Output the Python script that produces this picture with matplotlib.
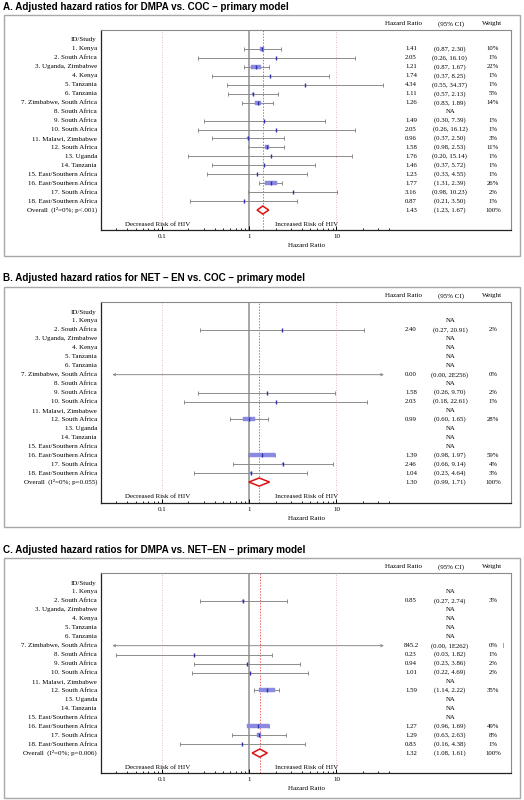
import matplotlib
matplotlib.use("Agg")
import matplotlib.pyplot as plt
import matplotlib.transforms as mtransforms
from matplotlib.patches import Rectangle, Polygon
import numpy as np

# ---------------- data ----------------
studies = ["1. Kenya", "2. South Africa", "3. Uganda, Zimbabwe", "4. Kenya",
           "5. Tanzania", "6. Tanzania", "7. Zimbabwe, South Africa",
           "8. South Africa", "9. South Africa", "10. South Africa",
           "11. Malawi, Zimbabwe", "12. South Africa", "13. Uganda",
           "14. Tanzania", "15. East/Southern Africa", "16. East/Southern Africa",
           "17. South Africa", "18. East/Southern Africa"]

titles = ["A. Adjusted hazard ratios for DMPA vs. COC \u2013 primary model",
          "B. Adjusted hazard ratios for NET \u2013 EN vs. COC \u2013 primary model",
          "C. Adjusted hazard ratios for DMPA vs. NET\u2013EN \u2013 primary model"]

overall_labels = ["Overall  (I\u00b2=0%; p<.001)",
                  "Overall  (I\u00b2=0%; p=0.055)",
                  "Overall  (I\u00b2=0%; p=0.006)"]

N = None
# Panel A: DMPA vs COC
hr_a = [1.41, 2.05, 1.21, 1.74, 4.34, 1.11, 1.26, N, 1.49, 2.05, 0.96, 1.58, 1.76, 1.46, 1.23, 1.77, 3.16, 0.87]
lo_a = [0.87, 0.26, 0.87, 0.37, 0.55, 0.57, 0.83, N, 0.30, 0.26, 0.37, 0.98, 0.20, 0.37, 0.33, 1.31, 0.98, 0.21]
hi_a = [2.30, 16.10, 1.67, 8.25, 34.37, 2.13, 1.89, N, 7.39, 16.12, 2.50, 2.53, 15.14, 5.72, 4.55, 2.39, 10.23, 3.50]
wt_a = [10, 1, 22, 1, 1, 5, 14, N, 1, 1, 3, 11, 1, 1, 1, 26, 2, 1]
ov_a = (1.43, 1.23, 1.67, 100)

# Panel B: NET-EN vs COC
hr_b = [N, 2.40, N, N, N, N, 0.00, N, 1.58, 2.03, N, 0.99, N, N, N, 1.39, 2.46, 1.04]
lo_b = [N, 0.27, N, N, N, N, 0.00, N, 0.26, 0.18, N, 0.60, N, N, N, 0.98, 0.66, 0.23]
hi_b = [N, 20.91, N, N, N, N, 2e256, N, 9.70, 22.61, N, 1.65, N, N, N, 1.97, 9.14, 4.64]
wt_b = [N, 2, N, N, N, N, 0, N, 2, 1, N, 28, N, N, N, 59, 4, 3]
ov_b = (1.30, 0.99, 1.71, 100)

# Panel C: DMPA vs NET-EN
hr_c = [N, 0.85, N, N, N, N, 845.2, 0.23, 0.94, 1.01, N, 1.59, N, N, N, 1.27, 1.29, 0.83]
lo_c = [N, 0.27, N, N, N, N, 0.00, 0.03, 0.23, 0.22, N, 1.14, N, N, N, 0.96, 0.63, 0.16]
hi_c = [N, 2.74, N, N, N, N, 1e262, 1.82, 3.86, 4.69, N, 2.22, N, N, N, 1.69, 2.63, 4.38]
wt_c = [N, 3, N, N, N, N, 0, 1, 2, 2, N, 35, N, N, N, 49, 8, 1]
ov_c = (1.32, 1.08, 1.61, 100)

panels = [(hr_a, lo_a, hi_a, wt_a, ov_a),
          (hr_b, lo_b, hi_b, wt_b, ov_b),
          (hr_c, lo_c, hi_c, wt_c, ov_c)]

major_ticks = [0.1, 1, 10]
major_labels = ["0.1", "1", "10"]
minor_ticks = [0.03, 0.04, 0.05, 0.06, 0.07, 0.08, 0.09,
               0.2, 0.3, 0.4, 0.5, 0.6, 0.7, 0.8, 0.9,
               2, 3, 4, 5, 6, 7, 8, 9, 20, 30, 40]

# ---------------- layout (pixels) ----------------
W, H = 524, 800
fig = plt.figure(figsize=(W / 100, H / 100), dpi=100)
fig.patch.set_facecolor("white")

SERIF = "Liberation Serif"
SANS = "Liberation Sans"
FS = 5.0      # label font size
FSN = 4.9     # numbers font size

# title center y, outer box (y0,y1), inner box (y0,y1)
geo = [(7.5, (15, 256), (30, 230)),
       (278, (287, 527), (302, 503)),
       (550, (558, 798), (573, 773))]

AX_X0, AX_X1 = 101, 511
ROW = 8.95
XMIN, XMAX = 0.02, 1000
CLIP_LO, CLIP_HI = 0.027, 35

LINE_C = "#8c8c8c"
BOX_C = "#8a8ae0"
EST_C = "#3030a8"
RED = "#e01010"


def fmt(v):
    if v >= 1e10:
        e = int(np.floor(np.log10(v)))
        m = v / 10 ** e
        return f"{m:.0f}E{e}"
    if v >= 100:
        return f"{v:.1f}"
    return f"{v:.2f}"


for p, ((hr, lo, hi, wt, ov), (ty, (oy0, oy1), (iy0, iy1))) in enumerate(zip(panels, geo)):
    # title
    fig.text(3 / W, 1 - ty / H, titles[p], fontsize=7.1, fontweight="bold",
             family=SANS, ha="left", va="center")
    # outer box
    fig.patches.append(Rectangle((4 / W, 1 - oy1 / H), 516 / W, (oy1 - oy0) / H,
                                 transform=fig.transFigure, fill=False,
                                 edgecolor="#a8a8a8", lw=1.0))
    ax = fig.add_axes([AX_X0 / W, 1 - iy1 / H, (AX_X1 - AX_X0) / W, (iy1 - iy0) / H])
    ax.set_xscale("log")
    ax.set_xlim(XMIN, XMAX)
    top = -10 / ROW
    bot = (iy1 - iy0 - 10) / ROW
    ax.set_ylim(bot, top)
    ax.set_yticks([])
    for s in ["top", "right"]:
        ax.spines[s].set_color("#8a8a8a")
        ax.spines[s].set_linewidth(0.8)
    ax.spines["left"].set_color("#222222")
    ax.spines["left"].set_linewidth(0.9)
    ax.spines["bottom"].set_color("#222222")
    ax.spines["bottom"].set_linewidth(0.9)
    ax.set_xticks(major_ticks)
    ax.set_xticklabels(major_labels, family=SERIF, fontsize=FS)
    ax.set_xticks(minor_ticks, minor=True)
    ax.xaxis.set_minor_formatter(matplotlib.ticker.NullFormatter())
    ax.tick_params(axis="x", which="major", direction="in", length=3, width=0.7, pad=3)
    ax.tick_params(axis="x", which="minor", direction="in", length=1.8, width=0.6)
    ax.set_xlabel("Hazard Ratio", family=SERIF, fontsize=FS, labelpad=3)

    # reference lines
    ax.axvline(1, color="#a0a0a0", lw=1.3, zorder=1)
    for v in (0.1, 10):
        ax.axvline(v, color="#dcaaaa", lw=0.6, ls=(0, (1, 2)), zorder=1)
    ax.axvline(ov[0], color="#ec6060", lw=0.7, ls=(0, (1.5, 1.5)), zorder=1)

    bt = mtransforms.blended_transform_factory(ax.transAxes, ax.transData)

    # header row
    ax.text(-0.01, 0, "ID/Study", transform=bt, ha="right", va="center",
            family=SERIF, fontsize=FS)
    hy = -1.8
    ax.text(0.739, hy, "Hazard Ratio", transform=bt, ha="center", va="center",
            family=SERIF, fontsize=FS, clip_on=False)
    ax.text(0.854, hy, "(95% CI)", transform=bt, ha="center", va="center",
            family=SERIF, fontsize=FS, clip_on=False)
    ax.text(0.954, hy, "Weight", transform=bt, ha="center", va="center",
            family=SERIF, fontsize=FS, clip_on=False)

    for i, name in enumerate(studies):
        y = i + 1
        ax.text(-0.01, y, name, transform=bt, ha="right", va="center",
                family=SERIF, fontsize=FS, clip_on=False)
        if hr[i] is None:
            ax.text(0.854, y, "NA", transform=bt, ha="center", va="center",
                    family=SERIF, fontsize=FSN)
            continue
        ax.text(0.756, y, fmt(hr[i]), transform=bt, ha="center", va="center",
                family=SERIF, fontsize=FSN)
        ax.text(0.851, y, f"({fmt(lo[i])}, {fmt(hi[i])})", transform=bt,
                ha="center", va="center", family=SERIF, fontsize=FSN)
        ax.text(0.956, y, f"{wt[i]}%", transform=bt, ha="center", va="center",
                family=SERIF, fontsize=FSN)
        l, h = lo[i], hi[i]
        if l < CLIP_LO or h > CLIP_HI:
            ax.annotate("", xy=(max(l, CLIP_LO), y), xytext=(min(h, CLIP_HI), y),
                        arrowprops=dict(arrowstyle="<->", color=LINE_C, lw=0.7,
                                        mutation_scale=4, shrinkA=0, shrinkB=0))
        else:
            ax.plot([l, h], [y, y], color=LINE_C, lw=0.7, zorder=2)
            ax.plot([l, h], [y, y], ls="none", marker="|", ms=3, mew=0.7,
                    color=LINE_C, zorder=2)
        if XMIN < hr[i] < CLIP_HI:
            wpx = 0.44 * wt[i]
            hpx = min(wpx, 3.8)
            if wpx > 1:
                a = 0.5
                b = 0.5 * hpx / wpx
                verts = [(-a, -b), (a, -b), (a, b), (-a, b), (-a, -b)]
                ax.plot([hr[i]], [y], ls="none", marker=verts, ms=wpx * 0.72,
                        mfc=BOX_C, mec=BOX_C, mew=0.3, zorder=3)
            ax.plot([hr[i]], [y], ls="none", marker="|", ms=3.2, mew=1.0,
                    color=EST_C, zorder=4)

    # stray bar in panel C row 7
    if p == 2:
        ax.text(0.98, 7, "|", transform=bt, ha="center", va="center",
                family=SERIF, fontsize=FSN)

    # overall row
    yo = 19
    ax.text(-0.01, yo, overall_labels[p], transform=bt, ha="right", va="center",
            family=SERIF, fontsize=FS, clip_on=False)
    ax.add_patch(Polygon([(ov[1], yo), (ov[0], yo - 0.45), (ov[2], yo), (ov[0], yo + 0.45)],
                         closed=True, fill=True, facecolor="white", edgecolor=RED,
                         lw=1.1, zorder=5))
    ax.text(0.756, yo, fmt(ov[0]), transform=bt, ha="center", va="center",
            family=SERIF, fontsize=FSN)
    ax.text(0.851, yo, f"({fmt(ov[1])}, {fmt(ov[2])})", transform=bt,
            ha="center", va="center", family=SERIF, fontsize=FSN)
    ax.text(0.956, yo, f"{ov[3]}%", transform=bt, ha="center", va="center",
            family=SERIF, fontsize=FSN)

    # risk labels
    ax.text(0.137, 20.6, "Decreased Risk of HIV", transform=bt, ha="center",
            va="center", family=SERIF, fontsize=FS)
    ax.text(0.502, 20.6, "Increased Risk of HIV", transform=bt, ha="center",
            va="center", family=SERIF, fontsize=FS)

fig.savefig("out.png", dpi=100, facecolor="white")
